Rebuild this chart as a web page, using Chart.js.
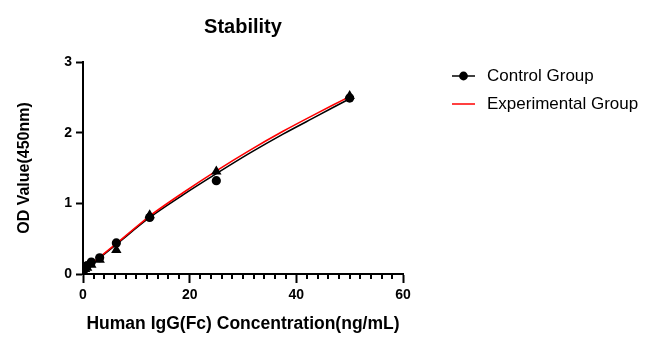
<!DOCTYPE html>
<html>
<head>
<meta charset="utf-8">
<script src="https://cdn.jsdelivr.net/npm/chart.js@4.4.1/dist/chart.umd.min.js"></script>
<style>
  html, body { margin: 0; padding: 0; background: #ffffff; }
  #wrap { width: 654px; height: 350px; }
</style>
</head>
<body>
<div id="wrap"><canvas id="c" width="654" height="350"></canvas></div>
<script>
// ---- data ----
const concentrations = [50, 25, 12.5, 6.25, 3.125, 1.5625, 0.78, 0.39, 0];
const controlOD      = [2.49, 1.32, 0.80, 0.44, 0.23, 0.17, 0.12, 0.08, 0.05];
const experimentalOD = [2.52, 1.45, 0.83, 0.34, 0.20, 0.13, 0.09, 0.07, 0.05];

// fitted curves
const fitX            = [0, 3.125, 6.25, 12.5, 18.75, 25, 31.25, 37.5, 43.75, 50];
const fitControl      = [0.05, 0.23, 0.42, 0.80, 1.12, 1.42, 1.71, 1.98, 2.23, 2.48];
const fitExperimental = [0.05, 0.24, 0.43, 0.82, 1.15, 1.46, 1.75, 2.02, 2.27, 2.51];

const xTicks = [0, 20, 40, 60];
const yTicks = [0, 1, 2, 3];
const seriesNames = ['Control Group', 'Experimental Group'];

const toXY = (xs, ys) => xs.map((x, i) => ({ x: x, y: ys[i] }));

const FONT = "'Liberation Sans', Arial, Helvetica, sans-serif";

// minor ticks on x axis
const minorTicks = {
  id: 'minorTicks',
  afterDraw(chart) {
    const xs = chart.scales.x;
    const ctx = chart.ctx;
    const y0 = chart.chartArea.bottom;
    ctx.save();
    ctx.strokeStyle = '#000';
    ctx.lineWidth = 2;
    for (let v = xs.min; v <= xs.max; v += 2) {
      if (v % 20 === 0) continue;
      const px = Math.round(xs.getPixelForValue(v));
      ctx.beginPath();
      ctx.moveTo(px, y0);
      ctx.lineTo(px, y0 + 5);
      ctx.stroke();
    }
    ctx.restore();
  }
};

// custom legend drawn at right
const sideLegend = {
  id: 'sideLegend',
  afterDraw(chart) {
    const ctx = chart.ctx;
    ctx.save();
    ctx.font = "17px " + FONT;
    ctx.fillStyle = '#000';
    ctx.textBaseline = 'middle';
    ctx.textAlign = 'left';
    // Control
    let y = 76;
    ctx.strokeStyle = '#000';
    ctx.lineWidth = 1.5;
    ctx.beginPath(); ctx.moveTo(452, y); ctx.lineTo(475, y); ctx.stroke();
    ctx.beginPath(); ctx.arc(463.5, y, 4.4, 0, Math.PI * 2); ctx.fill();
    ctx.fillText(seriesNames[0], 487, y);
    // Experimental
    y = 104;
    ctx.strokeStyle = '#ff0000';
    ctx.beginPath(); ctx.moveTo(452, y); ctx.lineTo(475, y); ctx.stroke();
    ctx.fillStyle = '#000';
    ctx.fillText(seriesNames[1], 487, y);
    ctx.restore();
  }
};

new Chart(document.getElementById('c'), {
  type: 'scatter',
  data: {
    datasets: [
      {
        label: seriesNames[0] + ' points',
        data: toXY(concentrations, controlOD),
        pointStyle: 'circle',
        pointRadius: 4.6,
        backgroundColor: '#000',
        borderColor: '#000',
        borderWidth: 0,
        showLine: false,
        order: 0
      },
      {
        label: seriesNames[1] + ' points',
        data: toXY(concentrations, experimentalOD),
        pointStyle: 'triangle',
        pointRadius: 6,
        backgroundColor: '#000',
        borderColor: '#000',
        borderWidth: 0,
        showLine: false,
        order: 0
      },
      {
        label: seriesNames[0],
        data: toXY(fitX, fitControl),
        showLine: true,
        pointRadius: 0,
        borderColor: '#000',
        borderWidth: 1.6,
        tension: 0.3,
        order: 2
      },
      {
        label: seriesNames[1],
        data: toXY(fitX, fitExperimental),
        showLine: true,
        pointRadius: 0,
        borderColor: '#ff0000',
        borderWidth: 1.6,
        tension: 0.3,
        order: 1
      }
    ]
  },
  options: {
    responsive: false,
    animation: false,
    devicePixelRatio: 1,
    layout: { padding: { left: 0, right: 251, top: 0, bottom: 0 } },
    plugins: {
      legend: { display: false },
      tooltip: { enabled: false },
      title: {
        display: true,
        text: 'Stability',
        fullSize: false,
        color: '#000',
        font: { family: FONT, size: 20, weight: 'bold' },
        padding: { top: 15, bottom: 23 }
      }
    },
    scales: {
      x: {
        type: 'linear',
        min: 0,
        max: 60,
        afterFit(s) { s.height = 76; },
        afterBuildTicks(s) { s.ticks = xTicks.map(v => ({ value: v })); },
        ticks: {
          color: '#000',
          font: { family: FONT, size: 14, weight: 'bold' },
          padding: 4,
          maxRotation: 0,
          autoSkip: false
        },
        grid: {
          drawOnChartArea: false,
          drawTicks: true,
          tickLength: 9,
          tickWidth: 2,
          tickColor: '#000'
        },
        border: { display: true, color: '#000', width: 2 },
        title: {
          display: true,
          text: 'Human IgG(Fc) Concentration(ng/mL)',
          color: '#000',
          font: { family: FONT, size: 17.5, weight: 'bold' },
          padding: { top: 0, bottom: 15 }
        }
      },
      y: {
        type: 'linear',
        min: 0,
        max: 3,
        afterFit(s) { s.width = 83; },
        afterBuildTicks(s) { s.ticks = yTicks.map(v => ({ value: v })); },
        ticks: {
          color: '#000',
          font: { family: FONT, size: 14, weight: 'bold' },
          padding: 4
        },
        grid: {
          drawOnChartArea: false,
          drawTicks: true,
          tickLength: 7,
          tickWidth: 2,
          tickColor: '#000'
        },
        border: { display: true, color: '#000', width: 2 },
        title: {
          display: true,
          text: 'OD Value(450nm)',
          color: '#000',
          font: { family: FONT, size: 16, weight: 'bold' },
          padding: { top: 15, bottom: 0 }
        }
      }
    }
  },
  plugins: [minorTicks, sideLegend]
});
</script>
</body>
</html>
